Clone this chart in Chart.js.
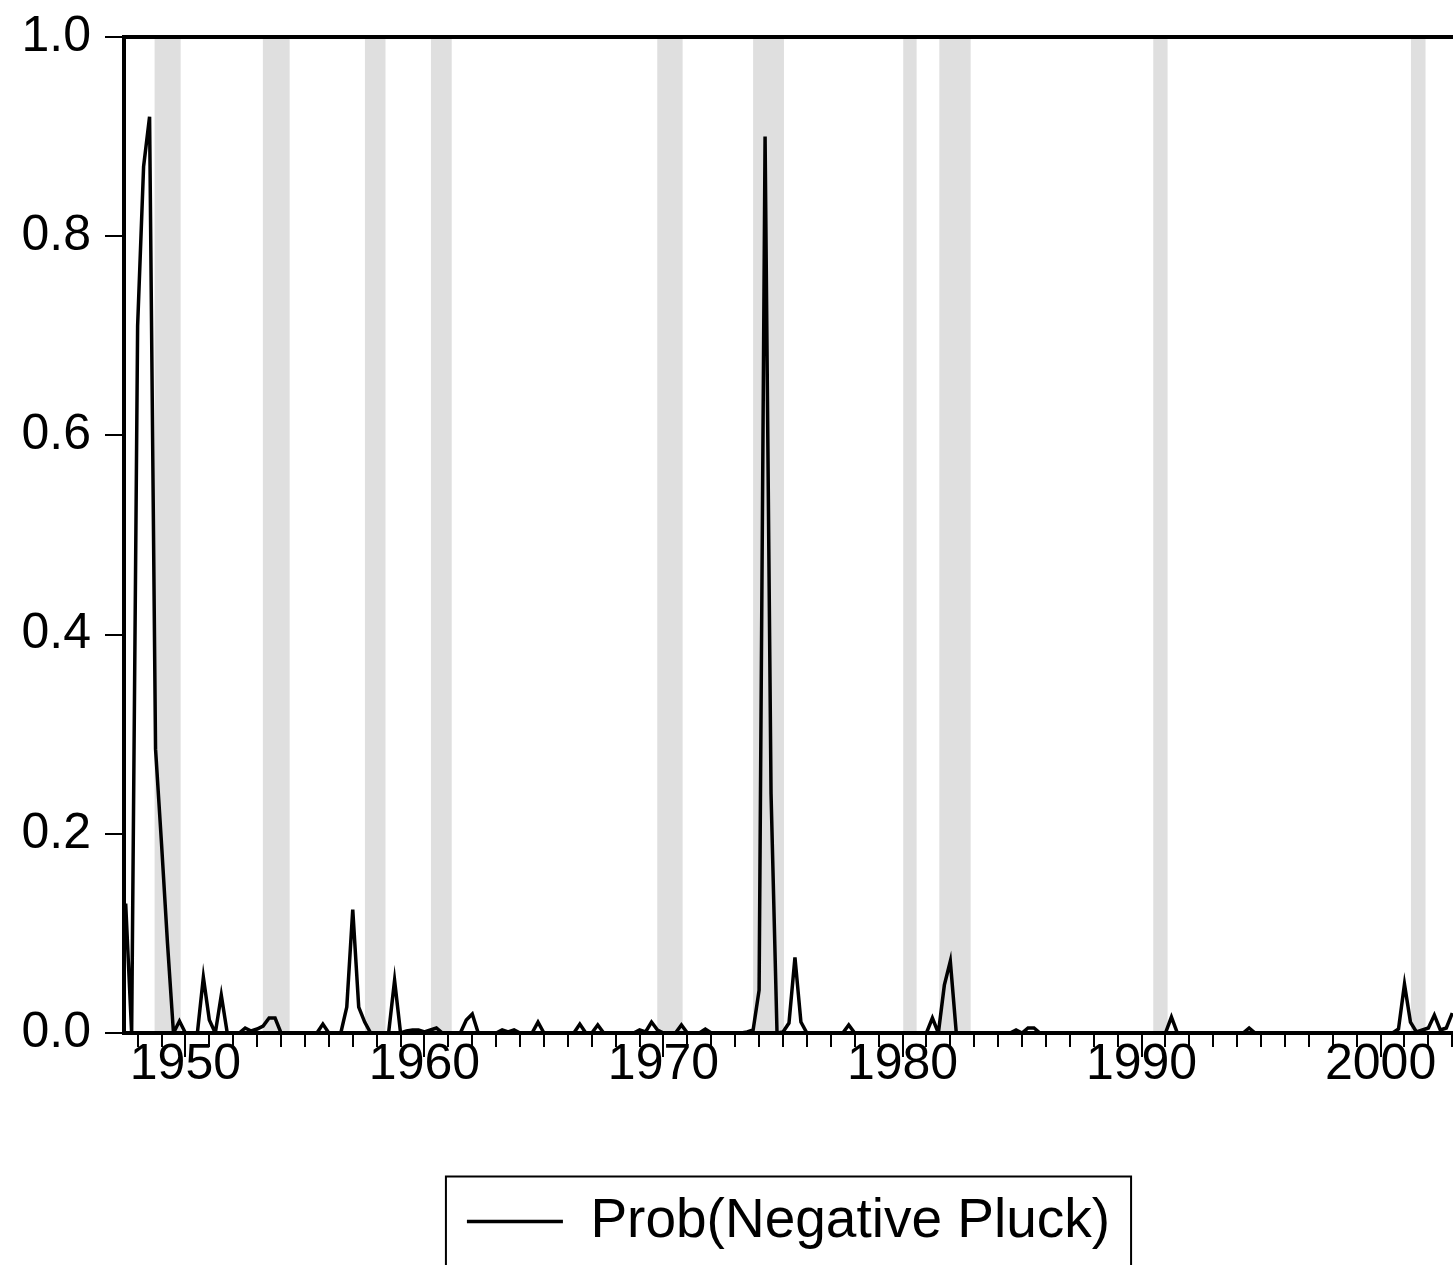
<!DOCTYPE html>
<html>
<head>
<meta charset="utf-8">
<script src="https://cdn.jsdelivr.net/npm/chart.js@4.4.1/dist/chart.umd.min.js"></script>
<style>
  html, body { margin: 0; padding: 0; background: #fff; }
  canvas { display: block; }
</style>
</head>
<body>
<canvas id="chart" width="1453" height="1265"></canvas>
<script>
// quarterly series, first observation 1947Q3
const firstYear = 1947;
const firstQuarter = 3;

const probNegativePluck = [
  0.13, 0.0,                      // 1947 Q3-Q4
  0.71, 0.87, 0.92, 0.285,        // 1948
  0.19, 0.09, 0.0, 0.012,         // 1949
  0, 0, 0, 0.056,                 // 1950
  0.013, 0, 0.038, 0,             // 1951
  0, 0, 0.005, 0.002,             // 1952
  0.004, 0.007, 0.015, 0.015,     // 1953
  0, 0, 0, 0,                     // 1954
  0, 0, 0, 0.009,                 // 1955
  0, 0, 0, 0.026,                 // 1956
  0.124, 0.026, 0.011, 0,         // 1957
  0, 0, 0, 0.053,                 // 1958
  0, 0.002, 0.003, 0.003,         // 1959
  0.001, 0.003, 0.005, 0,         // 1960
  0, 0, 0, 0.013,                 // 1961
  0.019, 0, 0, 0,                 // 1962
  0, 0.003, 0.001, 0.003,         // 1963
  0, 0, 0, 0.011,                 // 1964
  0, 0, 0, 0,                     // 1965
  0, 0, 0.009, 0,                 // 1966
  0, 0.008, 0, 0,                 // 1967
  0, 0, 0, 0,                     // 1968
  0.003, 0.001, 0.011, 0.003,     // 1969
  0, 0, 0, 0.008,                 // 1970
  0, 0, 0, 0.004,                 // 1971
  0, 0, 0, 0,                     // 1972
  0, 0, 0.001, 0.003,             // 1973
  0.043, 0.90, 0.24, 0,           // 1974
  0.001, 0.01, 0.076, 0.011,      // 1975
  0, 0, 0, 0,                     // 1976
  0, 0, 0, 0.008,                 // 1977
  0, 0, 0, 0,                     // 1978
  0, 0, 0, 0,                     // 1979
  0, 0, 0, 0,                     // 1980
  0, 0.015, 0, 0.048,             // 1981
  0.072, 0, 0, 0,                 // 1982
  0, 0, 0, 0,                     // 1983
  0, 0, 0, 0.003,                 // 1984
  0, 0.005, 0.005, 0,             // 1985
  0, 0, 0, 0,                     // 1986
  0, 0, 0, 0,                     // 1987
  0, 0, 0, 0,                     // 1988
  0, 0, 0, 0,                     // 1989
  0, 0, 0, 0,                     // 1990
  0, 0.016, 0, 0,                 // 1991
  0, 0, 0, 0,                     // 1992
  0, 0, 0, 0,                     // 1993
  0, 0, 0.005, 0,                 // 1994
  0, 0, 0, 0,                     // 1995
  0, 0, 0, 0,                     // 1996
  0, 0, 0, 0,                     // 1997
  0, 0, 0, 0,                     // 1998
  0, 0, 0, 0,                     // 1999
  0, 0, 0, 0.004,                 // 2000
  0.049, 0.011, 0.001, 0.003,     // 2001
  0.005, 0.018, 0.003, 0.005,     // 2002
  0.02                            // 2003 Q1
];

// shaded recession periods (decimal years)
const recessions = [
  [1948.71, 1949.80],
  [1953.24, 1954.36],
  [1957.51, 1958.37],
  [1960.27, 1961.14],
  [1969.74, 1970.80],
  [1973.75, 1975.04],
  [1980.03, 1980.59],
  [1981.54, 1982.85],
  [1990.49, 1991.09],
  [2001.27, 2001.88]
];

const yTicks = [0, 0.2, 0.4, 0.6, 0.8, 1.0];
const decadeLabels = [1950, 1960, 1970, 1980, 1990, 2000];
const xMin = 1947.43;
const xMax = 2003.03;

const points = probNegativePluck.map((v, i) => ({
  x: firstYear + (firstQuarter - 1) / 4 + i / 4,
  y: v
}));

const recessionBands = {
  id: "recessionBands",
  beforeDraw(chart) {
    const { ctx, chartArea, scales } = chart;
    ctx.save();
    ctx.fillStyle = "#dfdfdf";
    recessions.forEach(([a, b]) => {
      const x1 = scales.x.getPixelForValue(a);
      const x2 = scales.x.getPixelForValue(b);
      ctx.fillRect(x1, chartArea.top, x2 - x1, chartArea.bottom - chartArea.top);
    });
    ctx.restore();
  }
};

const frameAndTicks = {
  id: "frameAndTicks",
  afterDraw(chart) {
    const { ctx, chartArea, scales } = chart;
    ctx.save();
    ctx.strokeStyle = "#000";

    // top frame line
    ctx.lineWidth = 4;
    ctx.beginPath();
    ctx.moveTo(chartArea.left - 2, chartArea.top);
    ctx.lineTo(chartArea.right, chartArea.top);
    ctx.stroke();

    // yearly ticks, long ones at decades
    ctx.lineWidth = 2;
    for (let yr = Math.ceil(xMin); yr <= Math.floor(xMax); yr++) {
      const px = Math.round(scales.x.getPixelForValue(yr));
      const len = decadeLabels.includes(yr) ? 24 : 14;
      ctx.beginPath();
      ctx.moveTo(px, chartArea.bottom);
      ctx.lineTo(px, chartArea.bottom + len);
      ctx.stroke();
    }

    // legend frame
    const box = chart.legend.legendHitBoxes[0];
    if (box) {
      const cy = box.top + box.height / 2;
      ctx.lineWidth = 2;
      ctx.beginPath();
      ctx.moveTo(box.left - 21, chart.height + 5);
      ctx.lineTo(box.left - 21, cy - 45);
      ctx.lineTo(box.left + box.width + 21, cy - 45);
      ctx.lineTo(box.left + box.width + 21, chart.height + 5);
      ctx.stroke();
    }
    ctx.restore();
  }
};

new Chart(document.getElementById("chart"), {
  type: "line",
  data: {
    datasets: [{
      label: "Prob(Negative Pluck)",
      data: points,
      borderColor: "#000",
      backgroundColor: "#000",
      borderWidth: 3.5,
      pointRadius: 0,
      tension: 0,
      fill: false
    }]
  },
  options: {
    responsive: false,
    animation: false,
    devicePixelRatio: 1,
    layout: { padding: { top: 37, right: 0, left: 0, bottom: 6 } },
    plugins: {
      tooltip: { enabled: false },
      legend: {
        position: "bottom",
        fullSize: false,
        labels: {
          boxWidth: 96,
          boxHeight: 0,
          padding: 10,
          color: "#000",
          font: { family: "'Liberation Sans', Arial, sans-serif", size: 55 }
        }
      }
    },
    scales: {
      x: {
        type: "linear",
        min: xMin,
        max: xMax,
        afterFit: s => {
          s.height = 151;
          s.paddingLeft = 0;
          s.paddingRight = 0;
        },
        afterBuildTicks: s => {
          s.ticks = decadeLabels.map(v => ({ value: v }));
        },
        grid: { display: false, drawTicks: false },
        border: { display: true, color: "#000", width: 4 },
        ticks: {
          autoSkip: false,
          maxRotation: 0,
          padding: 2,
          color: "#000",
          font: { family: "'Liberation Sans', Arial, sans-serif", size: 50 },
          callback: v => String(v)
        }
      },
      y: {
        min: 0,
        max: 1,
        afterFit: s => {
          s.width = 124;
          s.paddingTop = 0;
          s.paddingBottom = 0;
        },
        afterBuildTicks: s => {
          s.ticks = yTicks.map(v => ({ value: v }));
        },
        grid: {
          drawOnChartArea: false,
          drawTicks: true,
          tickLength: 19,
          color: "#000",
          lineWidth: 2
        },
        border: { display: true, color: "#000", width: 4 },
        ticks: {
          padding: 14,
          color: "#000",
          font: { family: "'Liberation Sans', Arial, sans-serif", size: 50 },
          callback: v => v.toFixed(1)
        }
      }
    }
  },
  plugins: [recessionBands, frameAndTicks]
});
</script>
</body>
</html>
